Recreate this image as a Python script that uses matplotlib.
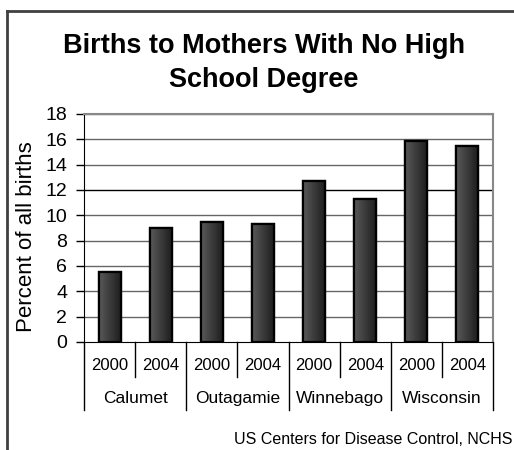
import numpy as np
import matplotlib.pyplot as plt
from matplotlib.patches import Rectangle

plt.rcParams['font.family'] = ['Liberation Sans', 'DejaVu Sans']

counties = ['Calumet', 'Outagamie', 'Winnebago', 'Wisconsin']
years = ['2000', '2004']
values = [5.5, 9.0, 9.5, 9.3, 12.7, 11.3, 15.9, 15.5]
title = 'Births to Mothers With No High\nSchool Degree'
source = 'US Centers for Disease Control, NCHS'

fig = plt.figure(figsize=(5.14, 4.5), dpi=100)
ax = fig.add_axes([84 / 514, 108 / 450, 409 / 514, 228 / 450])

x = np.arange(len(values))
bars = ax.bar(x, values, width=0.43, color='#333333', edgecolor='black',
              linewidth=1.6, zorder=3)

# shaded fill like the original, clipped to each bar
grad = np.linspace(0.35, 0.12, 64).reshape(1, -1)
for b in bars:
    x0, y0 = b.get_x(), b.get_y()
    im = ax.imshow(grad, cmap='gray', vmin=0, vmax=1, aspect='auto',
                   extent=(x0, x0 + b.get_width(), y0, y0 + b.get_height()),
                   zorder=3.5, interpolation='bilinear')
    im.set_clip_path(b)
    ax.add_patch(Rectangle((x0, y0), b.get_width(), b.get_height(),
                           fill=False, edgecolor='black', linewidth=1.6, zorder=4))

ax.set_xlim(-0.5, len(values) - 0.5)
ax.set_ylim(0, 18)
ax.set_yticks(range(0, 19, 2))
ax.tick_params(axis='y', labelsize=14, length=6, width=1, direction='out', pad=6)
ax.set_xticks([])

for v in range(2, 19, 2):
    ax.axhline(v, color='black' if v == 12 else '#666666', linewidth=1, zorder=1)

ax.spines['left'].set_color('black')
ax.spines['bottom'].set_color('black')
ax.spines['top'].set_color('#888888')
ax.spines['right'].set_color('#888888')
ax.spines['top'].set_linewidth(1.5)
ax.spines['right'].set_linewidth(1.5)

fig.text(27 / 514, 1 - 237 / 450, 'Percent of all births', rotation=90,
         ha='center', va='center', fontsize=16)

# two-level category axis
tr = ax.get_xaxis_transform()
for i, v in enumerate(values):
    ax.text(i, -0.105, years[i % 2], transform=tr, ha='center', va='center', fontsize=12)
for g, name in enumerate(counties):
    ax.text(2 * g + 0.5, -0.246, name, transform=tr, ha='center', va='center', fontsize=12.5)
    ax.plot([2 * g + 0.5] * 2, [0, -0.154], transform=tr, color='black',
            linewidth=1, clip_on=False)
for g in range(len(counties) + 1):
    ax.plot([2 * g - 0.5] * 2, [0, -0.298], transform=tr, color='black',
            linewidth=1, clip_on=False)

fig.text(264 / 514, 1 - 63 / 450, title, ha='center', va='center',
         fontsize=19.5, fontweight='bold', linespacing=1.4)
fig.text(512 / 514, 1 - 440 / 450, source, ha='right', va='center', fontsize=11.5)

# outer frame lines (top and left)
fig.add_artist(plt.Line2D([7 / 514, 7 / 514], [0, 1 - 11 / 450], color='#404040',
                          linewidth=2, transform=fig.transFigure))
fig.add_artist(plt.Line2D([7 / 514, 1], [1 - 11 / 450, 1 - 11 / 450], color='#404040',
                          linewidth=2, transform=fig.transFigure))

fig.savefig('out.png', dpi=100)
